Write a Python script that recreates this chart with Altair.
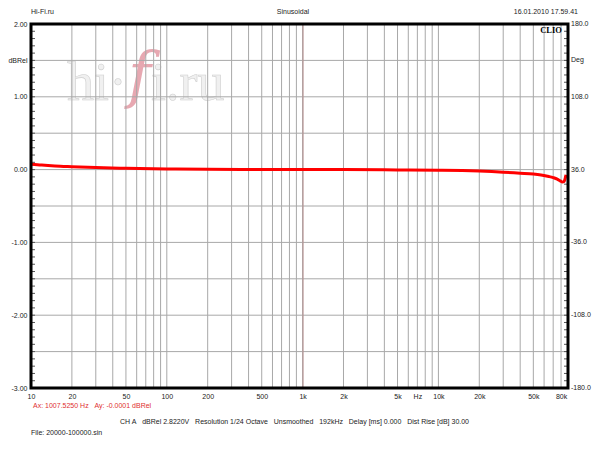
import altair as alt
import pandas as pd

W, H = 537, 364
FONT = "Liberation Sans"
SP = "\u00a0"

# measured response (Hz, dBRel)
freq = [10, 12, 15, 20, 30, 50, 100, 200, 500, 1000, 2000, 5000, 10000, 15000,
        20000, 30000, 40000, 50000, 57000, 65000, 70000, 75000, 79000, 82000,
        84000, 85500, 87000]
level = [0.075, 0.062, 0.05, 0.04, 0.028, 0.018, 0.008, 0.004, 0.002, 0.0, 0.0,
         -0.004, -0.008, -0.013, -0.02, -0.035, -0.05, -0.062, -0.075, -0.095,
         -0.11, -0.13, -0.155, -0.172, -0.165, -0.13, -0.07]

cursor_freq = [1007.525]

x_tick_vals = [10, 20, 50, 100, 200, 500, 1000, 2000, 5000, 7000, 10000, 20000, 50000, 80000]
x_tick_labels = ["10", "20", "50", "100", "200", "500", "1k", "2k", "5k", "Hz", "10k", "20k", "50k", "80k"]

y_tick_vals = [-3, -2, -1, 0, 1, 1.5, 2]
y_tick_labels = ["-3.00", "-2.00", "-1.00", "0.00", "1.00", "dBRel", "2.00"]
right_labels = ["-180.0", "-108.0", "-36.0", "36.0", "108.0", "Deg", "180.0"]

grid_freqs = [m * 10 ** e for e in range(1, 5) for m in range(1, 10) if 10 < m * 10 ** e <= 80000]
grid_levels = [-2.5, -2, -1.5, -1, -0.5, 0, 0.5, 1, 1.5]
minor_levels = [round(-3 + 0.1 * i, 1) for i in range(1, 50)]

header = ["Hi-Fi.ru", "Sinusoidal", "16.01.2010 17.59.41"]
cursor_parts = ["Ax: 1007.5250 Hz", "Ay: -0.0001 dBRel"]
info_parts = ["CH A", "dBRel 2.8220V", "Resolution 1/24 Octave", "Unsmoothed", "192kHz",
              "Delay [ms] 0.000", "Dist Rise [dB] 30.00"]
file_text = "File: 20000-100000.sin"

xscale = alt.Scale(type="log", domain=[10, 90000], nice=False)
yscale = alt.Scale(domain=[-3, 2], nice=False, zero=False)

def js_list(v):
    return "[" + ",".join(repr(s) if isinstance(s, str) else str(s) for s in v) + "]"

x_expr = f"{js_list(x_tick_labels)}[indexof({js_list(x_tick_vals)}, datum.value)]"
y_expr = f"{js_list(y_tick_labels)}[indexof({js_list(y_tick_vals)}, datum.value)]"

xaxis = alt.Axis(values=x_tick_vals, labelExpr=x_expr, grid=False, ticks=False, domain=False,
                 labelFlush=False, labelOverlap=False, labelBound=False, labelPadding=4,
                 labelFont=FONT, labelFontSize=7, labelColor="#222", title=None)
yaxis = alt.Axis(values=y_tick_vals, labelExpr=y_expr, grid=False, ticks=False, domain=False,
                 labelOverlap=False, labelBound=False, labelFlush=False, labelPadding=4,
                 labelFont=FONT, labelFontSize=7, labelColor="#222", title=None)

one = pd.DataFrame({"a": [0]})

def txt(text, x, y, align="left", size=7, color="#222", font=FONT, **kw):
    return alt.Chart(one).mark_text(text=text, align=align, baseline="middle", font=font,
                                    fontSize=size, color=color, **kw).encode(
        x=alt.value(x), y=alt.value(y))

# watermark
wm = [
    alt.Chart(one).mark_text(text="hi·", align="left", baseline="alphabetic", font="Liberation Serif",
                             fontSize=54, fill="#f0f0f0", stroke="#cfcfcf", strokeWidth=0.6).encode(
        x=alt.value(36), y=alt.value(76)),
    alt.Chart(one).mark_text(text="f", align="left", baseline="alphabetic", font="DejaVu Serif",
                             fontStyle="italic", fontSize=62, color="#e39aa4", opacity=0.85).encode(
        x=alt.value(97), y=alt.value(72)),
    alt.Chart(one).mark_text(text="i.ru", align="left", baseline="alphabetic", font="Liberation Serif",
                             fontSize=54, fill="#f0f0f0", stroke="#cfcfcf", strokeWidth=0.6).encode(
        x=alt.value(120), y=alt.value(76)),
]

vgrid = alt.Chart(pd.DataFrame({"f": grid_freqs})).mark_rule(color="#a8a8a8", strokeWidth=1).encode(
    x=alt.X("f:Q", scale=xscale, axis=xaxis))
hgrid = alt.Chart(pd.DataFrame({"l": grid_levels})).mark_rule(color="#a8a8a8", strokeWidth=1).encode(
    y=alt.Y("l:Q", scale=yscale, axis=yaxis))
cursor = alt.Chart(pd.DataFrame({"f": cursor_freq})).mark_rule(color="#b89090", strokeWidth=1).encode(
    x=alt.X("f:Q", scale=xscale, axis=xaxis))

minor_df = pd.DataFrame({"l": minor_levels})
minor_left = alt.Chart(minor_df).mark_rule(color="#555", strokeWidth=1).encode(
    y=alt.Y("l:Q", scale=yscale, axis=yaxis), x=alt.value(0), x2=alt.value(4))
minor_right = alt.Chart(minor_df).mark_rule(color="#555", strokeWidth=1).encode(
    y=alt.Y("l:Q", scale=yscale, axis=yaxis), x=alt.value(W - 4), x2=alt.value(W))

curve = alt.Chart(pd.DataFrame({"f": freq, "db": level})).mark_line(
    color="#ff0000", strokeWidth=3, interpolate="monotone").encode(
    x=alt.X("f:Q", scale=xscale, axis=xaxis),
    y=alt.Y("db:Q", scale=yscale, axis=yaxis),
    order=alt.Order("f:Q"))

right = alt.Chart(pd.DataFrame({"v": y_tick_vals, "t": right_labels})).mark_text(
    align="left", baseline="middle", font=FONT, fontSize=7, color="#222").encode(
    y=alt.Y("v:Q", scale=yscale, axis=yaxis), x=alt.value(W + 3), text="t:N")

border = alt.Chart(one).mark_rect(fillOpacity=0, stroke="black", strokeWidth=3).encode(
    x=alt.value(0), x2=alt.value(W), y=alt.value(0), y2=alt.value(H))

gap = SP * 3
texts = [
    txt(header[0], 0, -12),
    txt(header[1], 262, -12, align="center"),
    txt(header[2], 547, -12, align="right"),
    txt("CLIO", 520, 6, align="center", size=8.5, color="#000", font="Liberation Serif", fontWeight="bold"),
    txt(gap.join(cursor_parts), 2, 18 + H, color="#e03030"),
    txt(gap.join(info_parts), 89, 34 + H),
    txt(file_text, 0, 45 + H),
]

chart = alt.layer(*wm, vgrid, hgrid, cursor, minor_left, minor_right, curve, right, border, *texts).properties(
    width=W, height=H,
    autosize=alt.AutoSizeParams(type="none"),
    padding={"left": 23, "top": 16, "right": 24, "bottom": 54},
).configure_view(strokeWidth=0)

chart.save("out.html", embed_options={"renderer": "svg", "actions": False})
